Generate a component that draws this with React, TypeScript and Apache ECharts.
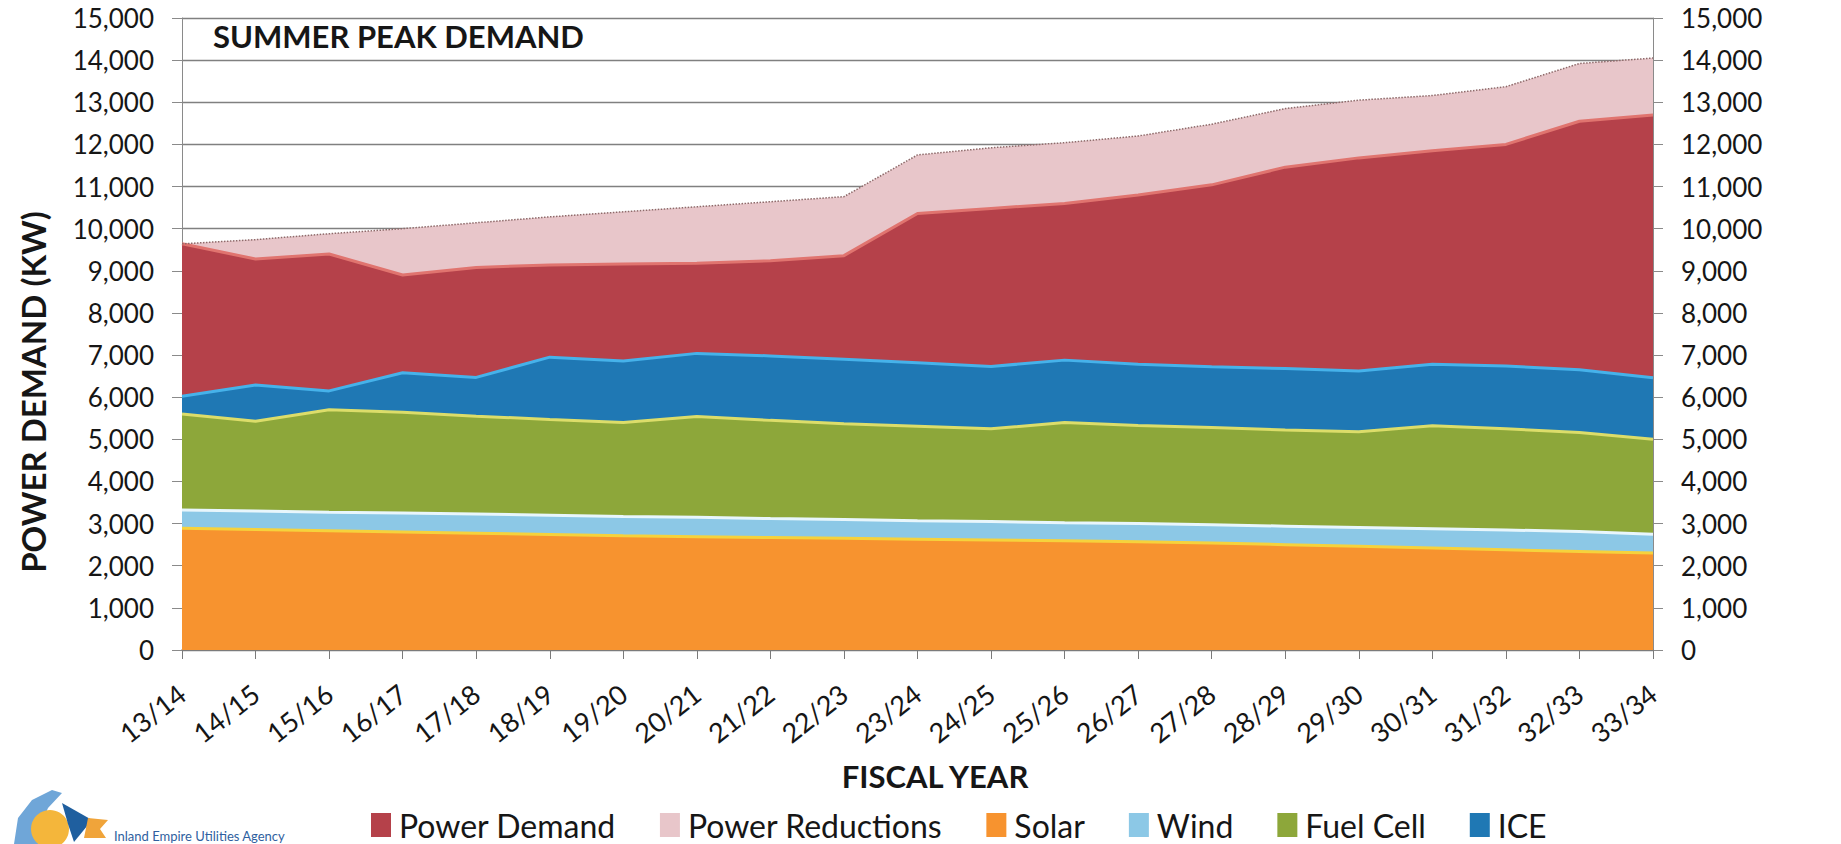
import React, { useEffect, useRef } from "react";
import * as echarts from "echarts";

const categories = [
  "13/14", "14/15", "15/16", "16/17", "17/18", "18/19", "19/20", "20/21", "21/22", "22/23",
  "23/24", "24/25", "25/26", "26/27", "27/28", "28/29", "29/30", "30/31", "31/32", "32/33", "33/34",
];

// stacked from bottom to top
const solar = [2890, 2860, 2830, 2800, 2770, 2740, 2710, 2690, 2670, 2650, 2630, 2610, 2590, 2570, 2540, 2500, 2460, 2420, 2380, 2340, 2300];
const wind = [430, 440, 440, 450, 460, 460, 460, 460, 450, 450, 440, 440, 430, 430, 430, 440, 450, 460, 470, 470, 450];
const fuelCell = [2280, 2130, 2430, 2390, 2320, 2270, 2230, 2390, 2330, 2270, 2240, 2200, 2380, 2330, 2310, 2280, 2270, 2440, 2400, 2350, 2250];
const ice = [420, 860, 450, 940, 920, 1480, 1460, 1500, 1530, 1530, 1510, 1480, 1480, 1450, 1440, 1460, 1440, 1460, 1490, 1490, 1460];
const powerDemand = [3620, 2990, 3250, 2320, 2610, 2190, 2300, 2140, 2260, 2460, 3540, 3750, 3720, 4020, 4320, 4780, 5060, 5070, 5260, 5900, 6240];
const powerReductions = [0, 460, 480, 1100, 1060, 1140, 1240, 1340, 1400, 1400, 1390, 1440, 1440, 1400, 1440, 1390, 1370, 1310, 1370, 1370, 1350];

const legendOrder = ["Power Demand", "Power Reductions", "Solar", "Wind", "Fuel Cell", "ICE"];

const COLORS: Record<string, string> = {
  Solar: "#F7932F",
  Wind: "#8CC8E6",
  "Fuel Cell": "#8DA73A",
  ICE: "#1F78B4",
  "Power Demand": "#B5414A",
  "Power Reductions": "#E8C6CA",
};
const EDGE: Record<string, string> = {
  Solar: "#F6D23C",
  Wind: "#E8F6FC",
  "Fuel Cell": "#DCDD6A",
  ICE: "#46B2EA",
  "Power Demand": "#E0746F",
  "Power Reductions": "#8E6A6A",
};

const FONT = "Lato, 'Open Sans', sans-serif";
const TXT = "#161616";

export default function App() {
  const ref = useRef<HTMLDivElement>(null);
  useEffect(() => {
    const chart = echarts.init(ref.current!, null, { renderer: "svg" });
    const seriesDefs: [string, number[]][] = [
      ["Solar", solar],
      ["Wind", wind],
      ["Fuel Cell", fuelCell],
      ["ICE", ice],
      ["Power Demand", powerDemand],
      ["Power Reductions", powerReductions],
    ];
    chart.setOption({
      animation: false,
      backgroundColor: "#ffffff",
      textStyle: { fontFamily: FONT },
      grid: { left: 182, right: 188, top: 18, bottom: 194, containLabel: false },
      title: {
        text: "SUMMER PEAK DEMAND",
        left: 208,
        top: 15,
        textStyle: { fontFamily: FONT, fontSize: 31, fontWeight: "bold", color: TXT },
      },
      legend: {
        left: 366,
        top: 804,
        icon: "rect",
        itemWidth: 20,
        itemHeight: 24,
        itemGap: 44,
        textStyle: { fontFamily: FONT, fontSize: 32, lineHeight: 32, color: TXT, padding: [0, 0, 0, 3] },
        data: legendOrder.map((n) => ({ name: n, itemStyle: { color: COLORS[n], borderWidth: 0 } })),
      },
      xAxis: {
        type: "category",
        data: categories,
        boundaryGap: false,
        axisLine: { lineStyle: { color: "#7a7a7a", width: 1.5 } },
        axisTick: { show: true, length: 9, lineStyle: { color: "#7a7a7a" } },
        axisLabel: {
          rotate: 38,
          margin: 40,
          fontSize: 27,
          fontFamily: FONT,
          color: TXT,
          interval: 0,
        },
        splitLine: { show: false },
      },
      yAxis: [
        {
          type: "value",
          min: 0,
          max: 15000,
          interval: 1000,
          position: "left",
          axisLine: { show: true, lineStyle: { color: "#8a8a8a" } },
          axisTick: { show: true, length: 10, lineStyle: { color: "#8a8a8a" } },
          axisLabel: {
            margin: 28,
            fontSize: 26,
            fontFamily: FONT,
            color: TXT,
            formatter: (v: number) => v.toLocaleString("en-US"),
          },
          splitLine: { show: true, lineStyle: { color: "#808080", width: 1.3 } },
        },
        {
          type: "value",
          min: 0,
          max: 15000,
          interval: 1000,
          position: "right",
          axisLine: { show: true, lineStyle: { color: "#8a8a8a" } },
          axisTick: { show: true, length: 10, lineStyle: { color: "#8a8a8a" } },
          axisLabel: {
            margin: 28,
            fontSize: 26,
            fontFamily: FONT,
            color: TXT,
            formatter: (v: number) => v.toLocaleString("en-US"),
          },
          splitLine: { show: false },
        },
      ],
      series: seriesDefs.map(([name, data]) => ({
        name,
        type: "line",
        stack: "total",
        data,
        symbol: "none",
        showSymbol: false,
        yAxisIndex: 0,
        itemStyle: { color: COLORS[name] },
        lineStyle:
          name === "Power Reductions"
            ? { color: EDGE[name], width: 1.5, type: "dotted" }
            : { color: EDGE[name], width: 3 },
        areaStyle: { color: COLORS[name], opacity: 1 },
        emphasis: { disabled: true },
      })),
      graphic: [
        {
          type: "text",
          x: 33,
          y: 392,
          rotation: Math.PI / 2,
          style: {
            text: "POWER DEMAND (KW)",
            fontFamily: FONT,
            fontSize: 33,
            fontWeight: "bold",
            fill: TXT,
            align: "center",
            verticalAlign: "middle",
          },
        },
        {
          type: "text",
          x: 935,
          y: 776,
          style: {
            text: "FISCAL YEAR",
            fontFamily: FONT,
            fontSize: 31,
            fontWeight: "bold",
            fill: TXT,
            align: "center",
            verticalAlign: "middle",
          },
        },
        {
          type: "group",
          children: [
            {
              type: "polygon",
              shape: { points: [[14, 844], [18, 818], [32, 800], [52, 790], [62, 793], [48, 808], [40, 826], [38, 844]] },
              style: { fill: "#6fa6d8" },
            },
            { type: "circle", shape: { cx: 50, cy: 829, r: 19 }, style: { fill: "#f4b63b" } },
            {
              type: "polygon",
              shape: { points: [[62, 803], [92, 820], [74, 842], [68, 824]] },
              style: { fill: "#1f5f9f" },
            },
            {
              type: "polygon",
              shape: { points: [[88, 818], [108, 820], [100, 829], [106, 838], [84, 838]] },
              style: { fill: "#f0a43a" },
            },
            {
              type: "text",
              x: 114,
              y: 829,
              style: {
                text: "Inland Empire Utilities Agency",
                fontFamily: FONT,
                fontSize: 13,
                fill: "#2f5fa0",
                verticalAlign: "top",
              },
            },
          ],
        },
      ],
    });
    return () => chart.dispose();
  }, []);
  return (
    <div
      ref={ref}
      style={{ position: "fixed", left: 0, top: 0, width: 1841, height: 844, background: "#fff" }}
    />
  );
}
